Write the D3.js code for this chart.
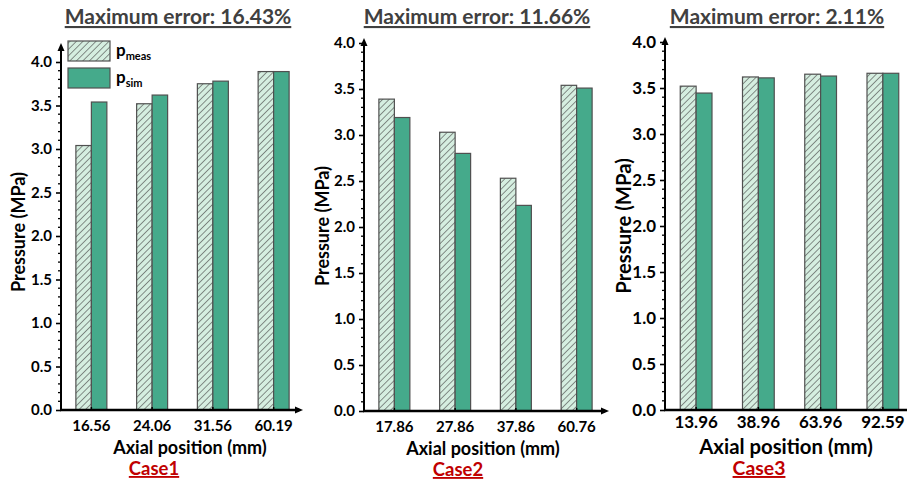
<!DOCTYPE html>
<html>
<head>
<meta charset="utf-8">
<script src="https://cdn.jsdelivr.net/npm/d3@7"></script>
<style>
  html, body { margin: 0; padding: 0; background: #fff; }
  svg { display: block; }
  text { font-family: Lato, "Open Sans", sans-serif; font-weight: bold; }
</style>
</head>
<body>
<svg id="chart" width="907" height="483"></svg>
<script>
// Measured vs simulated pressure at axial positions, three cases
const case1Positions = ["16.56", "24.06", "31.56", "60.19"];
const case1Meas = [3.04, 3.52, 3.75, 3.89];
const case1Sim = [3.54, 3.62, 3.78, 3.89];

const case2Positions = ["17.86", "27.86", "37.86", "60.76"];
const case2Meas = [3.39, 3.03, 2.53, 3.54];
const case2Sim = [3.19, 2.80, 2.235, 3.51];

const case3Positions = ["13.96", "38.96", "63.96", "92.59"];
const case3Meas = [3.52, 3.62, 3.65, 3.66];
const case3Sim = [3.445, 3.61, 3.63, 3.66];

const maxErrors = ["16.43%", "11.66%", "2.11%"];
const caseNames = ["Case1", "Case2", "Case3"];
const yTickValues = [0, 0.5, 1.0, 1.5, 2.0, 2.5, 3.0, 3.5, 4.0];
const yMinorValues = d3.range(0, 40).map(i => i / 10);
const seriesKeys = ["meas", "sim"];

const COLORS = { meas: "#d5eee0", sim: "#45aa8b", edge: "#505050", hatch: "#4a4a4a", caseRed: "#c00000", title: "#404040" };

const svg = d3.select("#chart");

// diagonal hatching for the measured bars
const defs = svg.append("defs");
const pat = defs.append("pattern")
  .attr("id", "hatch").attr("patternUnits", "userSpaceOnUse")
  .attr("width", 4.6).attr("height", 4.6)
  .attr("patternTransform", "rotate(45)");
pat.append("rect").attr("width", 4.6).attr("height", 4.6).attr("fill", COLORS.meas);
pat.append("line").attr("x1", 0).attr("y1", 0).attr("x2", 0).attr("y2", 4.6)
  .attr("stroke", COLORS.hatch).attr("stroke-width", 1.2);

const fill = k => k === "meas" ? "url(#hatch)" : COLORS.sim;

// panel layouts
const panels = [
  { positions: case1Positions, meas: case1Meas, sim: case1Sim,
    x0: 61, x1: 304, y0: 410, y4: 62, axisTop: 43, arrowRight: 303,
    fs: 1.0, tickPad: 10, xlabY: 454, caseY: 475,
    titleX: 178, ylabX: 19, ylabY: 232, xlabX: 190, caseX: 154, legend: true },
  { positions: case2Positions, meas: case2Meas, sim: case2Sim,
    x0: 364, x1: 607, y0: 411, y4: 43, axisTop: 38, arrowRight: 609,
    fs: 1.0, tickPad: 10, xlabY: 455, caseY: 476,
    titleX: 477, ylabX: 323, ylabY: 226, xlabX: 483, caseX: 458, legend: false },
  { positions: case3Positions, meas: case3Meas, sim: case3Sim,
    x0: 665, x1: 914, y0: 410, y4: 42, axisTop: 37, arrowRight: 920,
    fs: 1.13, tickPad: 6, xlabY: 454, caseY: 475,
    titleX: 777, ylabX: 624, ylabY: 226, xlabX: 786, caseX: 759, legend: false }
];

panels.forEach((p, i) => {
  const g = svg.append("g");
  const x = d3.scaleBand().domain(p.positions).range([p.x0, p.x1]);
  const y = d3.scaleLinear().domain([0, 4]).range([p.y0, p.y4]);
  const bw = x.bandwidth() * 0.255;
  const rows = p.positions.map((pos, j) => ({ pos, meas: p.meas[j], sim: p.sim[j] }));

  // bars
  rows.forEach(r => {
    const c = x(r.pos) + x.bandwidth() / 2;
    seriesKeys.forEach((k, si) => {
      g.append("rect")
        .attr("x", si === 0 ? c - bw : c)
        .attr("y", y(r[k]))
        .attr("width", bw)
        .attr("height", y(0) - y(r[k]))
        .attr("fill", fill(k))
        .attr("stroke", COLORS.edge).attr("stroke-width", 1.2);
    });
  });

  // y axis: major and minor ticks
  const yAxis = d3.axisLeft(y).tickValues(yTickValues).tickSize(5).tickPadding(4)
    .tickFormat(d3.format(".1f"));
  const ya = g.append("g").attr("transform", `translate(${p.x0},0)`).call(yAxis);
  ya.select(".domain").remove();
  ya.selectAll(".tick line").attr("stroke", "#000").attr("stroke-width", 1.6);
  ya.selectAll(".tick text").attr("fill", "#000").style("font-size", (15 * p.fs) + "px");
  g.append("g").selectAll("line").data(yMinorValues.filter(v => !yTickValues.includes(v)))
    .join("line")
    .attr("x1", p.x0 - 3).attr("x2", p.x0).attr("y1", d => y(d)).attr("y2", d => y(d))
    .attr("stroke", "#000").attr("stroke-width", 1.3);

  // y axis line with arrow
  g.append("line").attr("x1", p.x0).attr("x2", p.x0).attr("y1", p.y0 + 1).attr("y2", p.axisTop + 4)
    .attr("stroke", "#000").attr("stroke-width", 2);
  g.append("path")
    .attr("d", `M${p.x0},${p.axisTop} L${p.x0 - 3.5},${p.axisTop + 8} L${p.x0 + 3.5},${p.axisTop + 8} Z`)
    .attr("fill", "#000");

  // x axis: category labels with small inward ticks at bar pairs
  const xAxis = d3.axisBottom(x).tickSizeInner(-3).tickSizeOuter(0).tickPadding(p.tickPad);
  const xa = g.append("g").attr("transform", `translate(0,${p.y0})`).call(xAxis);
  xa.select(".domain").remove();
  xa.selectAll(".tick line").attr("stroke", "#000").attr("stroke-width", 1.5);
  xa.selectAll(".tick text").attr("fill", "#000").style("font-size", (15 * p.fs) + "px");
  g.append("line").attr("x1", p.x0 - 1).attr("x2", p.arrowRight - 4).attr("y1", p.y0).attr("y2", p.y0)
    .attr("stroke", "#000").attr("stroke-width", 2.4);
  g.append("path")
    .attr("d", `M${p.arrowRight},${p.y0} L${p.arrowRight - 8},${p.y0 - 3.5} L${p.arrowRight - 8},${p.y0 + 3.5} Z`)
    .attr("fill", "#000");

  // axis titles
  g.append("text").attr("transform", `translate(${p.ylabX},${p.ylabY}) rotate(-90)`)
    .attr("text-anchor", "middle").attr("dy", "0.35em")
    .style("font-size", (18 * p.fs) + "px").text("Pressure (MPa)");
  g.append("text").attr("x", p.xlabX).attr("y", p.xlabY)
    .attr("text-anchor", "middle").style("font-size", (18 * p.fs) + "px").text("Axial position (mm)");

  // case name, red and underlined
  g.append("text").attr("x", p.caseX).attr("y", p.caseY)
    .attr("text-anchor", "middle").attr("fill", COLORS.caseRed)
    .attr("text-decoration", "underline")
    .style("font-size", (18.5 * (p.fs > 1 ? 1.05 : 1)) + "px").text(caseNames[i]);

  // panel title, underlined
  g.append("text").attr("x", p.titleX).attr("y", 24)
    .attr("text-anchor", "middle").attr("fill", COLORS.title)
    .attr("text-decoration", "underline")
    .style("font-size", "21px").text("Maximum error: " + maxErrors[i]);

  // legend
  if (p.legend) {
    const lg = g.append("g");
    const items = [{ k: "meas", y: 41 }, { k: "sim", y: 68 }];
    items.forEach(it => {
      lg.append("rect").attr("x", 68).attr("y", it.y).attr("width", 42).attr("height", 20)
        .attr("fill", fill(it.k)).attr("stroke", COLORS.edge).attr("stroke-width", 1.2);
      const t = lg.append("text").attr("x", 116).attr("y", it.y + 15).style("font-size", "17px");
      t.append("tspan").text("p");
      t.append("tspan").attr("dy", 4).style("font-size", "11px").text(it.k);
    });
  }
});
</script>
</body>
</html>
